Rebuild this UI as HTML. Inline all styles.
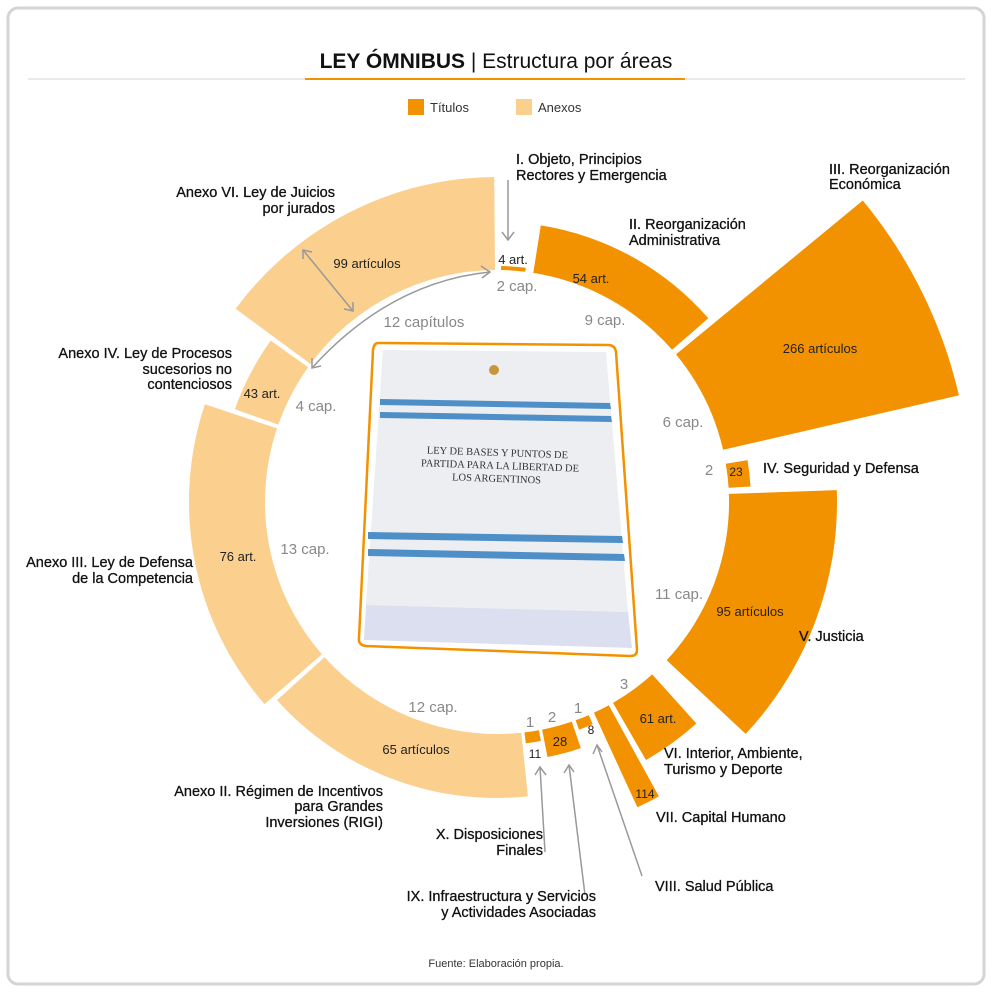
<!DOCTYPE html>
<html><head><meta charset="utf-8">
<style>
html,body{margin:0;padding:0;background:#fff;}
body{width:992px;height:992px;position:relative;overflow:hidden;font-family:"Liberation Sans",sans-serif;}
svg{position:absolute;left:0;top:0;}
</style></head>
<body>
<svg id="s" width="992" height="992" viewBox="0 0 992 992" font-family="Liberation Sans, sans-serif">
<rect x="8" y="8" width="976" height="976" rx="10" fill="#fff" stroke="#d4d4d4" stroke-width="3"/>
<text x="496" y="68" text-anchor="middle" font-size="21" fill="#111"><tspan font-weight="bold">LEY ÓMNIBUS</tspan> | Estructura por áreas</text>
<line x1="28" y1="79" x2="965" y2="79" stroke="#e3e3e3" stroke-width="1.5"/>
<line x1="305" y1="79" x2="685" y2="79" stroke="#f39200" stroke-width="2"/>
<rect x="408" y="99" width="16" height="16" fill="#f39200"/>
<text x="430" y="112" font-size="13" fill="#333">Títulos</text>
<rect x="516" y="99" width="16" height="16" fill="#fbcf8e"/>
<text x="538" y="112" font-size="13" fill="#333">Anexos</text>
<g id="wedges"></g>

<!-- book -->
<g>
<path d="M378,343 L608,345 Q615,345 616,352 L637,650 Q637,656 630,656 L366,646 Q358,645 359,638 L373,350 Q374,343 378,343 Z" fill="#fff" stroke="#f39200" stroke-width="2.5"/>
<path d="M383,350 L606,352 L628,612 L366,605 Z" fill="#eceef1"/>
<path d="M366,605 L628,612 L632,648 L364,640 Z" fill="#dcdff0"/>
<path d="M380,399 L610,403 L611,409 L380,405 Z" fill="#4e8fc8"/>
<path d="M380,412 L611,416 L612,422 L380,418 Z" fill="#4e8fc8"/>
<path d="M368,532 L622,536 L623,543 L368,539 Z" fill="#4e8fc8"/>
<path d="M368,549 L624,554 L625,561 L368,556 Z" fill="#4e8fc8"/>
<circle cx="494" cy="370" r="5" fill="#c8963a"/>
<g transform="rotate(2 500 465)" font-family="Liberation Serif, serif" font-size="10.5" fill="#333" text-anchor="middle">
<text x="497" y="456">LEY DE BASES Y PUNTOS DE</text>
<text x="500" y="469">PARTIDA PARA LA LIBERTAD DE</text>
<text x="497" y="482">LOS ARGENTINOS</text>
</g>
</g>

<!-- arrows -->
<g stroke="#999" stroke-width="1.5" fill="none">
<line x1="508" y1="180" x2="508" y2="240"/><path d="M502,232 L508,240 L514,232"/>
<line x1="303" y1="250" x2="353" y2="311"/><path d="M303,259 L303,250 L312,252"/><path d="M344,309 L353,311 L353,302"/>
<path d="M312,368 Q390,282 490,272"/><path d="M481,266 L490,272 L482,278"/><path d="M312,358 L312,368 L321,366"/>
<line x1="545" y1="852" x2="540" y2="767"/><path d="M535,775 L540,767 L546,775"/>
<line x1="585" y1="895" x2="569" y2="765"/><path d="M564,773 L569,765 L574,772"/>
<line x1="642" y1="876" x2="597" y2="745"/><path d="M593,754 L597,745 L602,752"/>
</g>

<!-- inside wedge labels -->
<g font-size="13" fill="#222" text-anchor="middle">
<text x="367" y="268">99 artículos</text>
<text x="513" y="264">4 art.</text>
<text x="591" y="283">54 art.</text>
<text x="820" y="353">266 artículos</text>
<text x="736" y="476" font-size="12">23</text>
<text x="750" y="616">95 artículos</text>
<text x="658" y="723">61 art.</text>
<text x="645" y="798" font-size="12">114</text>
<text x="591" y="734" font-size="12">8</text>
<text x="560" y="746" font-size="13">28</text>
<text x="535" y="758" font-size="12">11</text>
<text x="416" y="754">65 artículos</text>
<text x="238" y="561">76 art.</text>
<text x="262" y="398">43 art.</text>
</g>
<!-- cap labels -->
<g font-size="15" fill="#888" text-anchor="middle">
<text x="517" y="291">2 cap.</text>
<text x="605" y="325">9 cap.</text>
<text x="683" y="427">6 cap.</text>
<text x="709" y="475">2</text>
<text x="679" y="599">11 cap.</text>
<text x="624" y="689">3</text>
<text x="578" y="713">1</text>
<text x="552" y="722">2</text>
<text x="530" y="727">1</text>
<text x="433" y="712">12 cap.</text>
<text x="305" y="554">13 cap.</text>
<text x="316" y="411">4 cap.</text>
<text x="424" y="327">12 capítulos</text>
</g>
<!-- names -->
<g font-size="14.5" fill="#111" stroke="#111" stroke-width="0.3">
<text x="516" y="164">I. Objeto, Principios</text>
<text x="516" y="180">Rectores y Emergencia</text>
<text x="629" y="229">II. Reorganización</text>
<text x="629" y="245">Administrativa</text>
<text x="829" y="174">III. Reorganización</text>
<text x="829" y="189">Económica</text>
<text x="763" y="473">IV. Seguridad y Defensa</text>
<text x="799" y="641">V. Justicia</text>
<text x="664" y="758">VI. Interior, Ambiente,</text>
<text x="664" y="774">Turismo y Deporte</text>
<text x="656" y="822">VII. Capital Humano</text>
<text x="655" y="891">VIII. Salud Pública</text>
<g text-anchor="end">
<text x="335" y="197">Anexo VI. Ley de Juicios</text>
<text x="335" y="213">por jurados</text>
<text x="232" y="358">Anexo IV. Ley de Procesos</text>
<text x="232" y="374">sucesorios no</text>
<text x="232" y="389">contenciosos</text>
<text x="193" y="567">Anexo III. Ley de Defensa</text>
<text x="193" y="583">de la Competencia</text>
<text x="383" y="796">Anexo II. Régimen de Incentivos</text>
<text x="383" y="811">para Grandes</text>
<text x="383" y="827">Inversiones (RIGI)</text>
<text x="543" y="839">X. Disposiciones</text>
<text x="543" y="855">Finales</text>
<text x="596" y="901">IX. Infraestructura y Servicios</text>
<text x="596" y="917">y Actividades Asociadas</text>
</g>
</g>
<text x="496" y="967" text-anchor="middle" font-size="11" fill="#333">Fuente: Elaboración propia.</text>
</svg>
<script>
(function(){
var cx=497,cy=502,ri=232;
var D="#f39200",L="#fbcf8e";
var W=[[1,7,236,D],[9,49,280,D],[50.5,77,474,D],[80.5,86.5,254,D],[88,133,340,D],[138,150,298,D],[151.2,155.3,336,D],[156.7,160.2,242,D],[161.2,168.8,260,D],[169.6,173.2,243,D],[174,228,296,L],[229,288.5,308,L],[289.5,305.5,278,L],[306.5,359.5,325,L]];
function p(a,r){var t=a*Math.PI/180;return (cx+r*Math.sin(t)).toFixed(1)+","+(cy-r*Math.cos(t)).toFixed(1);}
var g=document.getElementById("wedges"),h="";
W.forEach(function(w){var a0=w[0],a1=w[1],ro=w[2],lg=(a1-a0)>180?1:0;
h+='<path fill="'+w[3]+'" d="M'+p(a0,ri)+' L'+p(a0,ro)+' A'+ro+','+ro+' 0 '+lg+' 1 '+p(a1,ro)+' L'+p(a1,ri)+' A'+ri+','+ri+' 0 '+lg+' 0 '+p(a0,ri)+' Z"/>';});
g.innerHTML=h;
})();
</script>
</body></html>
